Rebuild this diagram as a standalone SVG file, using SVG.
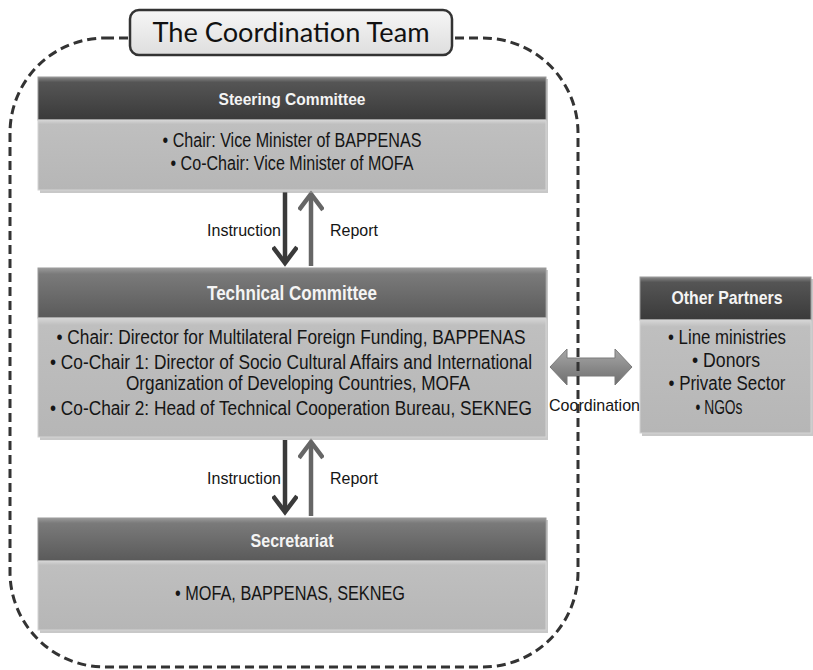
<svg xmlns="http://www.w3.org/2000/svg" width="813" height="670" viewBox="0 0 813 670">
<defs>
<linearGradient id="hdrDark" x1="0" y1="0" x2="0" y2="1">
<stop offset="0" stop-color="#8a8a8a"/><stop offset="0.12" stop-color="#555"/><stop offset="1" stop-color="#3a3a3a"/>
</linearGradient>
<linearGradient id="hdrMid" x1="0" y1="0" x2="0" y2="1">
<stop offset="0" stop-color="#9a9a9a"/><stop offset="0.12" stop-color="#7a7a7a"/><stop offset="1" stop-color="#5a5a5a"/>
</linearGradient>
<linearGradient id="body" x1="0" y1="0" x2="0" y2="1">
<stop offset="0" stop-color="#d6d6d6"/><stop offset="0.06" stop-color="#bfbfbf"/><stop offset="1" stop-color="#b6b6b6"/>
</linearGradient>
<linearGradient id="titleG" x1="0" y1="0" x2="0" y2="1">
<stop offset="0" stop-color="#f6f6f6"/><stop offset="1" stop-color="#dedede"/>
</linearGradient>
<linearGradient id="coordG" x1="0" y1="0" x2="0" y2="1">
<stop offset="0" stop-color="#a8a8a8"/><stop offset="0.5" stop-color="#8a8a8a"/><stop offset="1" stop-color="#6e6e6e"/>
</linearGradient>
<marker id="headDark" viewBox="0 0 24 26" refX="19" refY="13" markerWidth="24" markerHeight="26" markerUnits="userSpaceOnUse" orient="auto">
<path d="M3,1 L19,13 L3,25" fill="none" stroke="#3a3a3a" stroke-width="4.5"/>
</marker>
<marker id="headGray" viewBox="0 0 24 26" refX="19" refY="13" markerWidth="24" markerHeight="26" markerUnits="userSpaceOnUse" orient="auto">
<path d="M3,1 L19,13 L3,25" fill="none" stroke="#666" stroke-width="4.5"/>
</marker>
</defs>
<style>
.hdr{stroke:#9a9a9a;stroke-width:1}
.bd{fill:url(#body);stroke:#d4d4d4;stroke-width:1}
.shadow{fill:#9a9a9a;opacity:0.55}
.ht{font-family:"Liberation Sans",Arial,sans-serif;font-weight:bold;fill:#f4f4f4;text-anchor:middle}
.tx{font-family:"Liberation Sans",Arial,sans-serif;font-size:19.5px;fill:#151515;text-anchor:middle}
.lbl{font-family:"Liberation Sans",Arial,sans-serif;font-size:17px;fill:#151515}
.down{stroke:#3a3a3a;stroke-width:4.5;fill:none;marker-end:url(#headDark)}
.up{stroke:#666;stroke-width:4.5;fill:none;marker-end:url(#headGray)}
</style>

<g id="connectors">
<polygon id="coordination-arrow" points="550,367 567,349 567,358 615,358 615,349 632,367 615,385 615,376 567,376 567,385" fill="url(#coordG)" stroke="#7a7a7a" stroke-width="1"/>
<line class="down" x1="285" y1="192" x2="285" y2="263"/>
<line class="up" x1="311" y1="266" x2="311" y2="194"/>
<line class="down" x1="285" y1="440" x2="285" y2="512"/>
<line class="up" x1="311" y1="516" x2="311" y2="442"/>
<text class="lbl" x="281" y="236" text-anchor="end" textLength="74" lengthAdjust="spacingAndGlyphs">Instruction</text>
<text class="lbl" x="330" y="236" textLength="48" lengthAdjust="spacingAndGlyphs">Report</text>
<text class="lbl" x="281" y="484" text-anchor="end" textLength="74" lengthAdjust="spacingAndGlyphs">Instruction</text>
<text class="lbl" x="330" y="484" textLength="48" lengthAdjust="spacingAndGlyphs">Report</text>
<text class="lbl" x="549" y="411" textLength="91" lengthAdjust="spacingAndGlyphs">Coordination</text>
</g>

<g id="coordination-team">
<rect x="10" y="38" width="568" height="629" rx="95" ry="95" fill="none" stroke="#333" stroke-width="3" stroke-dasharray="9 5"/>
<rect x="130" y="10" width="322" height="45" rx="9" fill="url(#titleG)" stroke="#333" stroke-width="2.5"/>
<text x="291" y="42" font-family="Lato,'Open Sans',sans-serif" font-size="27" fill="#111" text-anchor="middle" textLength="277" lengthAdjust="spacingAndGlyphs">The Coordination Team</text>
</g>

<g id="steering-committee">
<rect class="shadow" x="40" y="79" width="508" height="114"/>
<rect class="hdr" x="38" y="77" width="508" height="43" fill="url(#hdrDark)"/>
<rect class="bd" x="38" y="120" width="508" height="70"/>
<text class="ht" x="292" y="105" font-size="17" textLength="147" lengthAdjust="spacingAndGlyphs">Steering Committee</text>
<text class="tx" x="292" y="147" textLength="259" lengthAdjust="spacingAndGlyphs">• Chair: Vice Minister of BAPPENAS</text>
<text class="tx" x="292" y="170" textLength="243" lengthAdjust="spacingAndGlyphs">• Co-Chair: Vice Minister of MOFA</text>
</g>

<g id="technical-committee">
<rect class="shadow" x="40" y="270" width="508" height="170"/>
<rect class="hdr" x="38" y="268" width="508" height="50" fill="url(#hdrMid)"/>
<rect class="bd" x="38" y="318" width="508" height="119"/>
<text class="ht" x="292" y="300" font-size="20" textLength="170" lengthAdjust="spacingAndGlyphs">Technical Committee</text>
<text class="tx" x="291" y="344" textLength="469" lengthAdjust="spacingAndGlyphs">• Chair: Director for Multilateral Foreign Funding, BAPPENAS</text>
<text class="tx" x="291" y="369" textLength="482" lengthAdjust="spacingAndGlyphs">• Co-Chair 1: Director of Socio Cultural Affairs and International</text>
<text class="tx" x="298" y="390" textLength="344" lengthAdjust="spacingAndGlyphs">Organization of Developing Countries, MOFA</text>
<text class="tx" x="291" y="415" textLength="482" lengthAdjust="spacingAndGlyphs">• Co-Chair 2: Head of Technical Cooperation Bureau, SEKNEG</text>
</g>

<g id="other-partners">
<rect class="shadow" x="642" y="279" width="171" height="157"/>
<rect class="hdr" x="640" y="277" width="171" height="43" fill="url(#hdrDark)"/>
<rect class="bd" x="640" y="320" width="171" height="113"/>
<text class="ht" x="727" y="304" font-size="19" textLength="111" lengthAdjust="spacingAndGlyphs">Other Partners</text>
<text class="tx" x="727" y="344" textLength="118" lengthAdjust="spacingAndGlyphs">• Line ministries</text>
<text class="tx" x="726" y="367" textLength="68" lengthAdjust="spacingAndGlyphs">• Donors</text>
<text class="tx" x="727" y="390" textLength="117" lengthAdjust="spacingAndGlyphs">• Private Sector</text>
<text class="tx" x="719" y="414" textLength="47" lengthAdjust="spacingAndGlyphs">• NGOs</text>
</g>

<g id="secretariat">
<rect class="shadow" x="40" y="520" width="508" height="113"/>
<rect class="hdr" x="38" y="518" width="508" height="43" fill="url(#hdrMid)"/>
<rect class="bd" x="38" y="561" width="508" height="69"/>
<text class="ht" x="292" y="547" font-size="19" textLength="83" lengthAdjust="spacingAndGlyphs">Secretariat</text>
<text class="tx" x="290" y="600" textLength="230" lengthAdjust="spacingAndGlyphs">• MOFA, BAPPENAS, SEKNEG</text>
</g>
</svg>
